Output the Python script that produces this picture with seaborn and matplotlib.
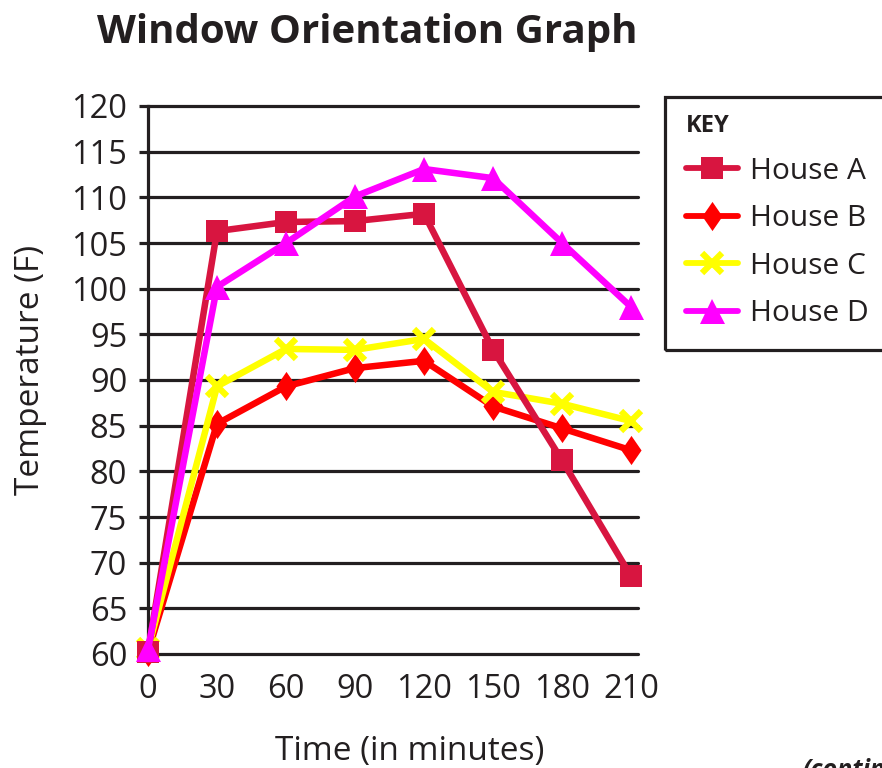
import matplotlib
matplotlib.use("Agg")
import matplotlib.pyplot as plt
from matplotlib.path import Path
from matplotlib.lines import Line2D
from matplotlib.patches import Rectangle
import seaborn as sns

# Temperature readings (F) every 30 minutes for four houses
minutes = [0, 30, 60, 90, 120, 150, 180, 210]
house_a = [60.2, 106.3, 107.3, 107.4, 108.2, 93.3, 81.2, 68.5]
house_b = [60.2, 85.2, 89.3, 91.3, 92.1, 87.1, 84.7, 82.3]
house_c = [60.5, 89.3, 93.4, 93.3, 94.5, 88.7, 87.4, 85.5]
house_d = [60.5, 100.2, 105.0, 110.1, 113.1, 112.1, 105.0, 98.0]
series_names = ["House A", "House B", "House C", "House D"]
y_ticks = list(range(60, 121, 5))

sns.set_style("white")
plt.rcParams["font.family"] = ["Open Sans", "DejaVu Sans"]

W, H = 882, 768
fig = plt.figure(figsize=(W / 100, H / 100), dpi=100)
ax = fig.add_axes([148 / W, 1 - 654 / H, (638 - 148) / W, (654 - 106) / H])

ink = "#231f20"
thin_diamond = Path([(0, 1), (0.69, 0), (0, -1), (-0.69, 0), (0, 1)],
                    [Path.MOVETO, Path.LINETO, Path.LINETO, Path.LINETO, Path.CLOSEPOLY])

styles = {
    "House A": dict(color="#d81540", marker="s", ms=16, mew=0, z=4),
    "House B": dict(color="#ff0000", marker=thin_diamond, ms=21, mew=0, z=2),
    "House C": dict(color="#ffff00", marker="x", ms=15, mew=4.5, z=3),
    "House D": dict(color="#ff00ff", marker="^", ms=18, mew=0, z=5),
}
values = {"House A": house_a, "House B": house_b, "House C": house_c, "House D": house_d}

for name in series_names:
    st = styles[name]
    sns.lineplot(x=minutes, y=values[name], ax=ax, color=st["color"], lw=4.7,
                 marker=st["marker"], markersize=st["ms"], markeredgewidth=st["mew"],
                 markeredgecolor=st["color"], zorder=st["z"], clip_on=False, legend=False)

ax.set_xlim(0, 213)
ax.set_ylim(60, 120)
for v in y_ticks:
    ax.axhline(v, color=ink, lw=2.3, zorder=1, clip_on=False)

for s in ["top", "right", "bottom"]:
    ax.spines[s].set_visible(False)
ax.spines["left"].set_color(ink)
ax.spines["left"].set_linewidth(2.3)

ax.set_yticks(y_ticks)
ax.set_xticks(minutes)
ax.tick_params(axis="y", direction="out", length=6.5, width=2.3, color=ink,
               labelsize=23.5, labelcolor=ink, pad=8.5, left=True)
ax.tick_params(axis="x", length=0, labelsize=23.5, labelcolor=ink, pad=14)

ax.set_xlabel("Time (in minutes)", fontsize=24, color=ink)
ax.xaxis.set_label_coords((410 - 148) / 490, -(735 - 654) / 548)
ax.set_ylabel("Temperature (F)", fontsize=24, color=ink)
ax.yaxis.set_label_coords((47 - 148) / 490, (654 - 370) / 548)

fig.text(367 / W, 1 - 33 / H, "Window Orientation Graph", ha="center", va="center",
         fontsize=29, fontweight="bold", color=ink)

# Key box
fig.patches.append(Rectangle((665 / W, 1 - 350 / H), (890 - 665) / W, (350 - 97) / H,
                             transform=fig.transFigure, fill=False, edgecolor=ink,
                             lw=2.3, clip_on=False))
handles = []
for name in series_names:
    st = styles[name]
    handles.append(Line2D([], [], color=st["color"], lw=4.2, marker=st["marker"],
                          markersize=st["ms"], markeredgewidth=st["mew"],
                          markeredgecolor=st["color"]))
leg = fig.legend(handles, series_names, loc="upper left",
                 bbox_to_anchor=(686 / W, 1 - 114 / H), frameon=False, fontsize=21.5,
                 title="KEY", title_fontproperties={"weight": "bold", "size": 17},
                 alignment="left", handlelength=1.75, handletextpad=0.4,
                 labelspacing=0.62, borderpad=0, borderaxespad=0)
for t in leg.get_texts():
    t.set_color(ink)
leg.get_title().set_color(ink)

fig.text(802 / W, 1 - 758 / H, "(continued)", ha="left", va="top", fontsize=18,
         style="italic", fontweight="bold", color=ink)

fig.savefig("out.png", dpi=100)
